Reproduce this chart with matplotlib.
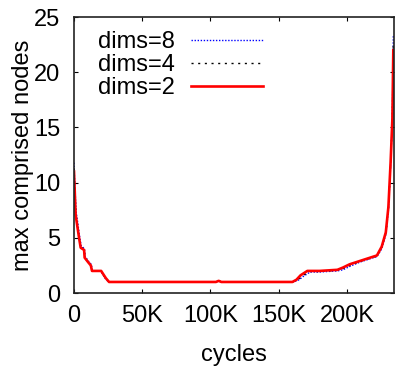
import matplotlib
matplotlib.use("Agg")
import matplotlib.pyplot as plt

plt.rcParams['font.family'] = ['Liberation Sans', 'DejaVu Sans']

# cycles in thousands
x_red = [0, 0.3, 1.2, 2.5, 3.7, 4.9, 7.4, 7.8, 10.3, 12.3, 13.2, 19.9, 23.3, 25.7,
         50, 100, 104, 106, 108, 150, 160, 163, 166, 171, 180, 193, 197, 202,
         209.5, 217, 222, 225.5, 228.5, 230.4, 232, 233.3, 234]
y_red = [11.0, 10.0, 7.1, 6.0, 5.0, 4.1, 3.9, 3.2, 2.8, 2.5, 2.0, 2.0, 1.35, 1.0,
         1.0, 1.0, 1.0, 1.1, 1.0, 1.0, 1.0, 1.2, 1.6, 2.0, 2.0, 2.1, 2.3, 2.6,
         2.9, 3.2, 3.4, 4.2, 5.5, 7.8, 11.8, 15.7, 22.0]

x_blue = [0, 0.3, 1.5, 2.8, 4.0, 5.2, 7.6, 8.2, 10.5, 12.6, 13.6, 19.5, 23.0, 25.4,
          50, 100, 104, 106, 108, 150, 161, 165, 168, 173, 180, 193, 197, 202,
          209.5, 217, 222, 225.5, 228.5, 230.4, 232, 233.3, 234]
y_blue = [11.8, 10.6, 7.4, 6.3, 5.2, 4.3, 4.0, 3.3, 2.9, 2.6, 2.0, 2.0, 1.3, 1.0,
          1.0, 1.0, 1.0, 1.1, 1.0, 1.0, 1.0, 1.2, 1.5, 1.9, 1.9, 2.0, 2.1, 2.4,
          2.8, 3.1, 3.3, 4.0, 5.3, 7.5, 11.5, 15.9, 23.4]

x_black = [0, 0.3, 1.4, 2.6, 3.8, 5.0, 7.5, 8.0, 10.4, 12.4, 13.4, 19.7, 23.2, 25.6,
           50, 100, 104, 106, 108, 150, 160, 164, 167, 172, 180, 193, 197, 202,
           209.5, 217, 222, 225.5, 228.5, 230.4, 232, 233.3, 234]
y_black = [11.3, 10.2, 7.2, 6.1, 5.1, 4.2, 3.9, 3.2, 2.8, 2.5, 2.0, 2.0, 1.3, 1.0,
           1.0, 1.0, 1.0, 1.1, 1.0, 1.0, 1.0, 1.2, 1.5, 1.95, 1.95, 2.05, 2.2, 2.5,
           2.85, 3.15, 3.35, 4.1, 5.4, 7.6, 11.6, 15.8, 22.6]

labels = ['dims=8', 'dims=4', 'dims=2']
xticks = [0, 50, 100, 150, 200]
xticklabels = ['0', '50K', '100K', '150K', '200K']
yticks = [0, 5, 10, 15, 20, 25]

W, H = 395, 366
fig = plt.figure(figsize=(W / 100, H / 100), dpi=100)
ax = fig.add_axes([74 / W, 1 - 293 / H, 320 / W, 276 / H])

ax.plot(x_blue, y_blue, color='#0000ff', lw=1.0, linestyle=(0, (1, 1.2)), label=labels[0])
ax.plot(x_black, y_black, color='black', lw=1.0, linestyle=(0, (1.5, 3.3)), label=labels[1])
ax.plot(x_red, y_red, color='#ff0000', lw=1.9, linestyle='-', label=labels[2])

ax.set_xlim(0, 234.5)
ax.set_ylim(0, 25)
ax.set_xticks(xticks)
ax.set_xticklabels(xticklabels)
ax.set_yticks(yticks)
ax.tick_params(direction='in', length=3, width=0.8, top=True, right=True,
               labelsize=17)
ax.tick_params(axis='x', pad=9)
ax.tick_params(axis='y', pad=10)
for s in ax.spines.values():
    s.set_linewidth(1.2)
    s.set_color('#222222')

ax.set_xlabel('cycles', fontsize=17, va='center')
ax.xaxis.set_label_coords(0.5, (293 - 355) / 276)
ax.set_ylabel('max comprised nodes', fontsize=17, va='center')
ax.yaxis.set_label_coords((23 - 74) / 320, 0.5)

ax.legend(loc='upper left', bbox_to_anchor=((98 - 74) / 320, 1 - (31 - 17) / 276),
          frameon=False, fontsize=17, markerfirst=False, handlelength=3.05,
          handletextpad=0.68, labelspacing=0.05, borderpad=0, borderaxespad=0)

fig.savefig('out.png', dpi=100)
